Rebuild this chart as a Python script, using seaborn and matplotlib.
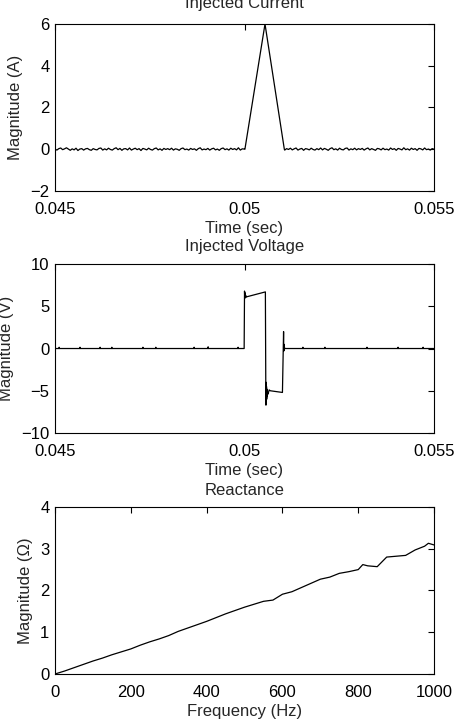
import numpy as np
import pandas as pd
import matplotlib
matplotlib.use("Agg")
import matplotlib.pyplot as plt
import seaborn as sns

# ---------------- data ----------------
# Injected current: noise before pulse, triangular pulse, noise after
cur_noise_pre = [0.01, -0.04, 0.03, 0.06, -0.02, 0.02, 0.07, 0.01, -0.05, 0.02,
                 -0.03, 0.05, -0.06, 0.01, 0.03, -0.04, 0.02, 0.04, -0.02, -0.05,
                 0.03, -0.01, -0.03, 0.04, 0.06, -0.04, 0.02, -0.03, 0.05, -0.01,
                 -0.04, 0.03, 0.07, -0.02, 0.04, -0.05, 0.02, 0.03, -0.03, 0.06,
                 -0.04, 0.01, 0.05, -0.02, 0.03, -0.06, 0.04, 0.01, -0.03, 0.05,
                 -0.01, -0.04, 0.03, 0.06, -0.03, 0.02, -0.05, 0.04, -0.01, 0.03,
                 -0.02, 0.05, -0.04, 0.02, 0.00, -0.05, 0.03, 0.06, -0.02, 0.01,
                 -0.04, 0.04, -0.01, 0.02, -0.05, 0.03, 0.07, -0.03, 0.01, -0.02,
                 0.04, -0.04, 0.02, 0.05, -0.03, 0.01, -0.05, 0.03, 0.06, -0.02,
                 0.02, -0.04, 0.05, -0.01, 0.03, -0.03, 0.07, -0.04, 0.02, 0.01]
cur_pulse_t = [0.05001, 0.05054, 0.05105]
cur_pulse_v = [0.0, 6.0, 0.0]
cur_noise_post = [-0.04, 0.03, -0.01, 0.05, -0.03, 0.02, 0.06, -0.04, 0.01, 0.04,
                  -0.05, 0.03, 0.01, -0.03, 0.05, -0.01, -0.04, 0.03, -0.02, 0.06,
                  -0.03, 0.04, 0.00, -0.05, 0.03, 0.07, -0.02, 0.02, -0.04, 0.05,
                  -0.01, -0.03, 0.04, 0.06, -0.04, 0.02, -0.02, 0.05, -0.03, 0.03,
                  -0.01, 0.04, -0.04, 0.02, 0.06, -0.03, 0.03, -0.01, -0.05, 0.04,
                  0.02, -0.03, 0.05, -0.02, 0.01, -0.04, 0.06, -0.01, 0.03, -0.05,
                  0.04, 0.01, -0.03, 0.07, -0.02, 0.02, -0.04, 0.05, -0.01, 0.03,
                  -0.05, 0.04, 0.02, -0.03, 0.06, -0.02, 0.01, -0.04, 0.03, 0.00]

# Injected voltage (main waveform)
volt_t = [0.045, 0.04999, 0.05000, 0.050005, 0.05001, 0.050015, 0.05002, 0.050025,
          0.05003, 0.050035, 0.05004, 0.05055, 0.05056, 0.050565, 0.05057, 0.050575,
          0.05058, 0.050585, 0.05059, 0.050595, 0.05060, 0.05062, 0.05065, 0.05068,
          0.05100, 0.05103, 0.051035, 0.05104, 0.051045, 0.05105, 0.05106, 0.05108, 0.055]
volt_v = [0.0, 0.0, 6.8, 6.0, 6.6, 6.1, 6.4, 6.0, 6.3, 6.1, 6.1, 6.7, -3.5, -6.7, -4.0,
          -6.3, -4.5, -6.0, -4.8, -5.7, -5.2, -5.4, -4.9, -5.0, -5.2, 2.0, -0.3, 0.5,
          -0.2, 0.2, 0.0, 0.0, 0.0]
# tiny switching blips on the zero line
volt_blip_t = [0.04511, 0.04566, 0.04619, 0.04650, 0.04732, 0.04766, 0.04867,
               0.04904, 0.04983, 0.05154, 0.05212, 0.05323, 0.05405, 0.05471]
volt_blip_v = [0.15, 0.15, 0.15, 0.15, 0.15, 0.15, 0.15, 0.2, 0.15, 0.15, 0.15,
               0.15, 0.15, 0.15]

# Reactance
freq = [0, 25, 50, 75, 100, 125, 150, 175, 200, 225, 250, 275, 300, 325, 350, 375,
        400, 425, 450, 475, 500, 525, 550, 575, 600, 625, 650, 675, 700, 725, 750,
        775, 800, 812, 825, 850, 875, 900, 925, 950, 975, 985, 1000]
react = [0.00, 0.07, 0.15, 0.23, 0.31, 0.38, 0.46, 0.53, 0.60, 0.69, 0.77, 0.84,
         0.92, 1.02, 1.10, 1.18, 1.26, 1.35, 1.44, 1.52, 1.60, 1.67, 1.74, 1.77,
         1.91, 1.97, 2.07, 2.17, 2.27, 2.32, 2.41, 2.45, 2.50, 2.62, 2.59, 2.57,
         2.80, 2.82, 2.84, 2.97, 3.06, 3.13, 3.09]

# ---------------- assemble ----------------
t_pre = np.linspace(0.045, 0.04999, len(cur_noise_pre))
t_post = np.linspace(0.05106, 0.055, len(cur_noise_post))
cur_df = pd.DataFrame({
    "t": np.concatenate([t_pre, cur_pulse_t, t_post]),
    "v": np.concatenate([cur_noise_pre, cur_pulse_v, cur_noise_post]),
})

dt = 0.000004
blip_rows = []
for bt, bv in zip(volt_blip_t, volt_blip_v):
    blip_rows += [(bt - dt, 0.0), (bt, bv), (bt + dt, 0.0)]
volt_df = pd.concat([
    pd.DataFrame({"t": volt_t, "v": volt_v}),
    pd.DataFrame(blip_rows, columns=["t", "v"]),
]).sort_values("t", kind="stable").reset_index(drop=True)

react_df = pd.DataFrame({"f": freq, "x": react})

# ---------------- style ----------------
sns.set_style("white")
plt.rcParams["font.family"] = ["Liberation Sans", "DejaVu Sans"]
FS = 12
plt.rcParams["font.size"] = FS
plt.rcParams["axes.edgecolor"] = "black"
plt.rcParams["axes.linewidth"] = 0.8

fig = plt.figure(figsize=(4.64, 7.2), dpi=100)
ax1 = fig.add_axes([0.1185, 0.7347, 0.817, 0.232])
ax2 = fig.add_axes([0.1185, 0.3986, 0.817, 0.2347])
ax3 = fig.add_axes([0.1185, 0.0639, 0.817, 0.232])

lw = 0.9
sns.lineplot(data=cur_df, x="t", y="v", ax=ax1, color="black", linewidth=lw,
             estimator=None, sort=False)
sns.lineplot(data=volt_df, x="t", y="v", ax=ax2, color="black", linewidth=lw,
             estimator=None, sort=False)
sns.lineplot(data=react_df, x="f", y="x", ax=ax3, color="black", linewidth=lw,
             estimator=None, sort=False)

def style(ax, xlim, ylim, xticks, xticklabels, yticks, xlabel, ylabel, title, tpad):
    ax.set_xlim(*xlim)
    ax.set_ylim(*ylim)
    ax.set_xticks(xticks)
    ax.set_xticklabels(xticklabels)
    ax.set_yticks(yticks)
    ax.set_yticklabels([f"{v:g}".replace("-", "\u2212") for v in yticks])
    ax.tick_params(direction="in", top=True, right=True, length=4, width=0.8,
                   labelsize=FS, colors="black")
    ax.tick_params(axis="x", pad=8)
    ax.tick_params(axis="y", pad=4)
    ax.set_xlabel(xlabel, fontsize=FS, labelpad=3)
    ax.set_ylabel(ylabel, fontsize=FS, labelpad=5)
    ax.set_title(title, fontsize=FS, pad=tpad)
    for s in ax.spines.values():
        s.set_visible(True)
        s.set_color("black")

style(ax1, (0.045, 0.055), (-2, 6), [0.045, 0.05, 0.055], ["0.045", "0.05", "0.055"],
      [-2, 0, 2, 4, 6], "Time (sec)", "Magnitude (A)", "Injected Current", 11.5)
style(ax2, (0.045, 0.055), (-10, 10), [0.045, 0.05, 0.055], ["0.045", "0.05", "0.055"],
      [-10, -5, 0, 5, 10], "Time (sec)", "Magnitude (V)", "Injected Voltage", 9.5)
style(ax3, (0, 1000), (0, 4), [0, 200, 400, 600, 800, 1000],
      ["0", "200", "400", "600", "800", "1000"],
      [0, 1, 2, 3, 4], "Frequency (Hz)", "Magnitude (\u03a9)", "Reactance", 8.6)

fig.savefig("out.png", dpi=100, facecolor="white")
